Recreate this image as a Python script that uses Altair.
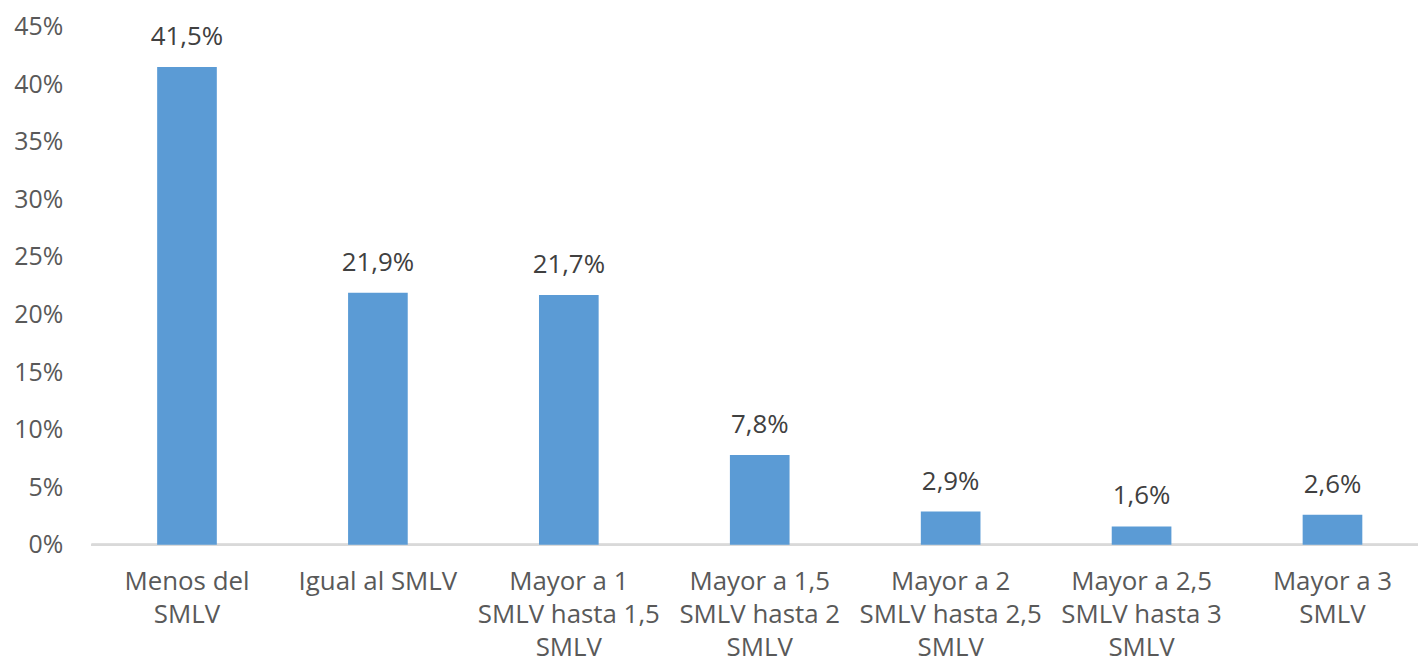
import altair as alt
import pandas as pd

categories = [
    "Menos del|SMLV",
    "Igual al SMLV",
    "Mayor a 1|SMLV hasta 1,5|SMLV",
    "Mayor a 1,5|SMLV hasta 2|SMLV",
    "Mayor a 2|SMLV hasta 2,5|SMLV",
    "Mayor a 2,5|SMLV hasta 3|SMLV",
    "Mayor a 3|SMLV",
]
values = [41.5, 21.9, 21.7, 7.8, 2.9, 1.6, 2.6]
y_ticks = [0, 5, 10, 15, 20, 25, 30, 35, 40, 45]

df = pd.DataFrame({"cat": categories, "val": values})
FONT = "Open Sans"

base = alt.Chart(df).encode(
    x=alt.X(
        "cat:N",
        sort=categories,
        title=None,
        scale=alt.Scale(paddingInner=0.6875, paddingOuter=0.29167),
        axis=alt.Axis(
            labelExpr="split(datum.value, '|')",
            labelAngle=0,
            labelFont=FONT,
            labelFontSize=26,
            labelColor="#595959",
            labelLineHeight=33,
            labelPadding=24,
            labelBaseline="top",
            ticks=False,
            domain=False,
            grid=False,
            labelLimit=400,
        ),
    ),
    y=alt.Y(
        "val:Q",
        title=None,
        scale=alt.Scale(domain=[0, 45], nice=False),
        axis=alt.Axis(
            values=y_ticks,
            labelExpr="datum.value + '%'",
            labelFont=FONT,
            labelFontSize=25,
            labelColor="#595959",
            labelPadding=39,
            ticks=False,
            domain=False,
            grid=False,
        ),
    ),
)

baseline = alt.Chart(df).mark_rule(color="#D9D9D9", strokeWidth=2).encode(
    x=alt.value(-10), x2=alt.value(1324), y=alt.datum(0)
)

bars = base.mark_bar(color="#5B9BD5")
labels = base.mark_text(
    baseline="bottom", dy=-17, font=FONT, fontSize=26, color="#404040"
).encode(text=alt.Text("lbl:N")).transform_calculate(
    lbl="replace(format(datum.val, '.1f'), '.', ',') + '%'"
)

chart = (
    alt.layer(baseline, bars, labels)
    .properties(
        width=1324,
        height=521,
        background="white",
        autosize=alt.AutoSizeParams(type="none"),
        padding={"left": 94, "top": 17, "right": 0, "bottom": 111},
    )
    .configure_view(stroke=None, strokeWidth=0)
    .configure_axis(grid=False)
)

chart.save("out.html", embed_options={"renderer": "svg", "actions": False})
